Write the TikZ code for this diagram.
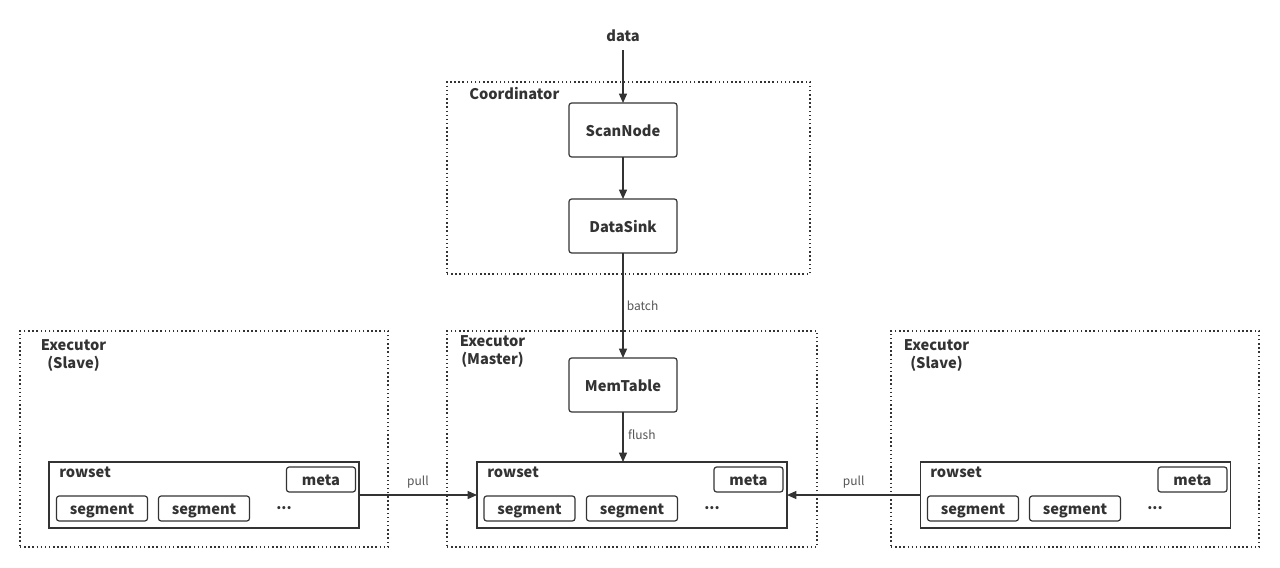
\documentclass[tikz,border=0pt]{standalone}
\usepackage{fontspec}
\setmainfont{Noto Sans CJK SC}
\usetikzlibrary{arrows.meta}
\definecolor{lineGray}{RGB}{51,51,51}
\definecolor{labelGray}{RGB}{85,85,85}

\tikzset{
  box/.style={draw=lineGray, line width=0.9pt, rounded corners=2pt, inner sep=0pt, outer sep=0pt,
    text height=9.5pt, text depth=0pt, text=lineGray, font=\fontsize{11}{13}\selectfont\bfseries},
  stagebox/.style={box, minimum width=81pt, minimum height=40.5pt},
  segbox/.style={box, minimum width=68.25pt, minimum height=18.75pt},
  metabox/.style={box, minimum width=51.75pt, minimum height=18.75pt},
  rowsetbox/.style={draw=lineGray, line width=0.9pt, inner sep=0pt, outer sep=0pt,
    minimum width=232.5pt, minimum height=49.5pt},
  group/.style={draw=lineGray, line width=1pt, dash pattern=on 1.1pt off 2pt, inner sep=0pt,
    minimum width=276pt, minimum height=162pt},
  title/.style={text=lineGray, font=\fontsize{11}{13}\selectfont\bfseries, align=center, inner sep=0pt},
  flow/.style={draw=lineGray, line width=1pt, -{Triangle[length=7pt,width=6pt]}},
  edgelabel/.style={text=labelGray, font=\fontsize{9}{11}\selectfont},
}

\begin{document}
\begin{tikzpicture}[x=0.75pt, y=-0.75pt]
\useasboundingbox (0,0) rectangle (1280,567);

% Groups
\node[group, minimum width=272.25pt, minimum height=144pt] (coordGroup) at (628.5,178) {};
\node[group, minimum width=277.5pt] (masterGroup) at (632,439) {};
\node[group] (slaveLGroup) at (204,439) {};
\node[group] (slaveRGroup) at (1075,439) {};

% Group titles
\node[title, anchor=west] (coordTitle) at (469,94) {Coordinator};
\node[title] (masterTitle) at (492.5,351.5) {Executor\\(Master)};
\node[title] (slaveLTitle) at (73.5,355.5) {Executor\\(Slave)};
\node[title] (slaveRTitle) at (936.5,355.5) {Executor\\(Slave)};

% Coordinator
\node[title] (data) at (623,36) {data};
\node[stagebox] (scan) at (623,130) {ScanNode};
\node[stagebox] (sink) at (623,226) {DataSink};

% Master
\node[stagebox] (mem) at (623,385) {MemTable};
\node[rowsetbox] (rowsetM) at (632,495) {};
\node[title, anchor=west] (rowsetMLabel) at (487,472) {rowset};
\node[metabox] (metaM) at (748.5,479.5) {meta};
\node[segbox] (segMa) at (529.5,508.5) {segment};
\node[segbox] (segMb) at (632,508.5) {segment};
\node[title] (dotsM) at (712,508) {...};

% Left slave
\node[rowsetbox] (rowsetL) at (204,495) {};
\node[title, anchor=west] (rowsetLLabel) at (59,472) {rowset};
\node[metabox] (metaL) at (321,479.5) {meta};
\node[segbox] (segLa) at (102,508.5) {segment};
\node[segbox] (segLb) at (204,508.5) {segment};
\node[title] (dotsL) at (284,508) {...};

% Right slave
\node[rowsetbox] (rowsetR) at (1075.5,495) {};
\node[title, anchor=west] (rowsetRLabel) at (930,472) {rowset};
\node[metabox] (metaR) at (1192.5,479.5) {meta};
\node[segbox] (segRa) at (973,508.5) {segment};
\node[segbox] (segRb) at (1075,508.5) {segment};
\node[title] (dotsR) at (1155,508) {...};

% Arrows
\draw[flow] (data.south) ++(0,8) coordinate (dataFoot) -- (scan.north);
\draw[flow] (scan) -- (sink);
\draw[flow] (sink) -- node[edgelabel, right, xshift=-1pt] {batch} (mem);
\draw[flow] (mem) -- node[edgelabel, right, yshift=2pt] {flush} (mem|-rowsetM.north);
\draw[flow] (rowsetL) -- node[edgelabel, above, yshift=1pt] {pull} (rowsetM);
\draw[flow] (rowsetR) -- node[edgelabel, above, yshift=1pt] {pull} (rowsetM);
\end{tikzpicture}
\end{document}
